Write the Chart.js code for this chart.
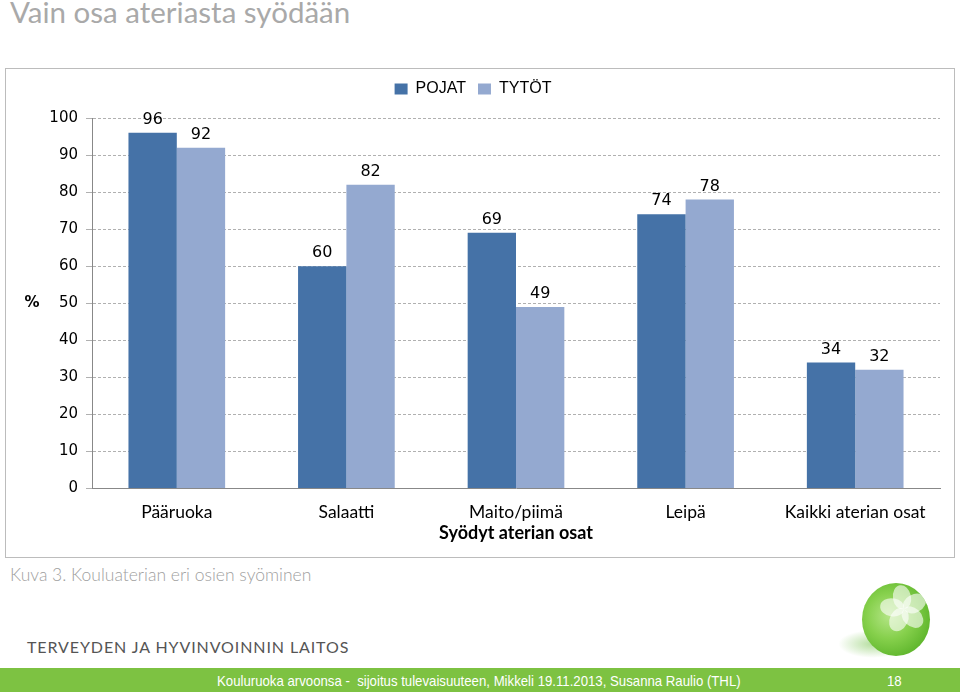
<!DOCTYPE html>
<html>
<head>
<meta charset="utf-8">
<script src="https://cdn.jsdelivr.net/npm/chart.js@4.4.0/dist/chart.umd.min.js"></script>
<style>
  body { margin: 0; width: 960px; height: 692px; background: #fff; position: relative; overflow: hidden; }
  #title { position: absolute; left: 10px; top: -6px; font: 29.5px Lato, "Open Sans", sans-serif; color: #a9a9a9; }
  #box { position: absolute; left: 5px; top: 68px; width: 948px; height: 488px; border: 1px solid #bcbcbc; }
  #wrap { position: absolute; left: 6px; top: 69px; width: 948px; height: 488px; }
  #caption { position: absolute; left: 10px; top: 564px; font: 300 17.5px Lato, sans-serif; color: #a0a0a0; }
  #org { position: absolute; left: 27px; top: 637px; font: 16px Lato, sans-serif; color: #555; letter-spacing: 0.9px; }
  #footer { position: absolute; left: 0; top: 668px; width: 960px; height: 24px; background: #7dc242; color: #fff;
            font: 15px "Liberation Sans", Arial, sans-serif; }
  #footer .t { position: absolute; left: 217px; top: 4px; white-space: nowrap; transform: scaleX(0.88); transform-origin: left center; }
  #footer .n { position: absolute; left: 887px; top: 4px; transform: scaleX(0.88); transform-origin: left center; }
  #shadow { position: absolute; left: 838px; top: 630px; width: 70px; height: 28px; border-radius: 50%;
            background: radial-gradient(ellipse at center, rgba(120,195,80,0.55), rgba(255,255,255,0) 70%); }
  #ball { position: absolute; left: 862px; top: 583px; width: 68px; height: 73px; border-radius: 50%; overflow: hidden;
          background: radial-gradient(circle at 40% 45%, #b4e586 0%, #86d04c 40%, #5cb42a 78%, #449a18 100%); }
  .petal { position: absolute; width: 18px; height: 24px; border-radius: 50% 50% 45% 45%;
           background: rgba(255,255,255,0.6); transform-origin: 50% 100%; }
</style>
</head>
<body>
<div id="title">Vain osa ateriasta syödään</div>
<div id="box"></div>
<div id="wrap"><canvas id="chart"></canvas></div>
<div id="caption">Kuva 3. Kouluaterian eri osien syöminen</div>
<div id="shadow"></div>
<div id="ball">
  <div class="petal" style="left:33px;top:2px;transform:rotate(-10deg)"></div>
  <div class="petal" style="left:33px;top:2px;transform:rotate(62deg)"></div>
  <div class="petal" style="left:33px;top:2px;transform:rotate(134deg)"></div>
  <div class="petal" style="left:33px;top:2px;transform:rotate(206deg)"></div>
  <div class="petal" style="left:33px;top:2px;transform:rotate(278deg)"></div>
</div>
<div id="org">TERVEYDEN JA HYVINVOINNIN LAITOS</div>
<div id="footer"><span class="t">Kouluruoka arvoonsa -&nbsp; sijoitus tulevaisuuteen, Mikkeli 19.11.2013, Susanna Raulio (THL)</span><span class="n">18</span></div>
<script>
const ctx = document.getElementById('chart');

//Prepare data
var categories = ['Pääruoka', 'Salaatti', 'Maito/piimä', 'Leipä', 'Kaikki aterian osat'];
var pojat = [96, 60, 69, 74, 34];
var tytot = [92, 82, 49, 78, 32];

//Value labels above bars
const barLabels = {
    id: 'barLabels',
    afterDatasetsDraw(chart) {
        const c = chart.ctx;
        c.save();
        c.font = '16px "DejaVu Sans", Verdana, sans-serif';
        c.fillStyle = '#000';
        c.textAlign = 'center';
        c.textBaseline = 'bottom';
        chart.data.datasets.forEach((ds, i) => {
            chart.getDatasetMeta(i).data.forEach((bar, j) => {
                c.fillText(ds.data[j], bar.x, bar.y - 5);
            });
        });
        c.restore();
    }
};

//Horizontal "%" label left of the y axis
const percentLabel = {
    id: 'percentLabel',
    afterDraw(chart) {
        const c = chart.ctx;
        const y = chart.scales.y;
        c.save();
        c.font = 'bold 15px "DejaVu Sans", Verdana, sans-serif';
        c.fillStyle = '#000';
        c.textAlign = 'center';
        c.textBaseline = 'middle';
        c.fillText('%', 26, y.getPixelForValue(50));
        c.restore();
    }
};

//More room under the legend
const legendGap = {
    id: 'legendGap',
    beforeInit(chart) {
        const fit = chart.legend.fit;
        chart.legend.fit = function () {
            fit.bind(chart.legend)();
            this.height += 11;
        };
    }
};

//Create chart
new Chart(ctx, {
    type: 'bar',
    data: {
        labels: categories,
        datasets: [
            {
                label: 'POJAT',
                data: pojat,
                backgroundColor: '#4572a7',
                borderWidth: 0,
                barPercentage: 1,
                categoryPercentage: 0.57
            },
            {
                label: 'TYTÖT',
                data: tytot,
                backgroundColor: '#94a9d0',
                borderWidth: 0,
                barPercentage: 1,
                categoryPercentage: 0.57
            }
        ]
    },
    options: {
        responsive: true,
        maintainAspectRatio: false,
        animation: false,
        layout: { padding: { top: 0, right: 14, left: 0, bottom: 9 } },
        plugins: {
            legend: {
                position: 'top',
                labels: {
                    boxWidth: 13,
                    boxHeight: 11,
                    padding: 12,
                    color: '#000',
                    font: { family: '"Liberation Sans", Arial, sans-serif', size: 16 }
                }
            },
            tooltip: { enabled: false }
        },
        scales: {
            x: {
                grid: { display: false },
                border: { color: '#888' },
                ticks: { color: '#000', padding: 5, font: { family: 'Lato, sans-serif', size: 17.5 } },
                title: {
                    display: true,
                    text: 'Syödyt aterian osat',
                    color: '#000',
                    padding: { top: -5, bottom: 4 },
                    font: { family: 'Lato, sans-serif', size: 18, weight: 'bold' }
                }
            },
            y: {
                min: 0,
                max: 100,
                ticks: { stepSize: 10, color: '#000', padding: 8, font: { family: '"DejaVu Sans", Verdana, sans-serif', size: 15 } },
                grid: { color: '#b0b0b0', tickLength: 6 },
                border: { color: '#888', dash: [3, 2] },
                afterFit(scale) { scale.width = 86; }
            }
        }
    },
    plugins: [barLabels, percentLabel, legendGap]
});
</script>
</body>
</html>
